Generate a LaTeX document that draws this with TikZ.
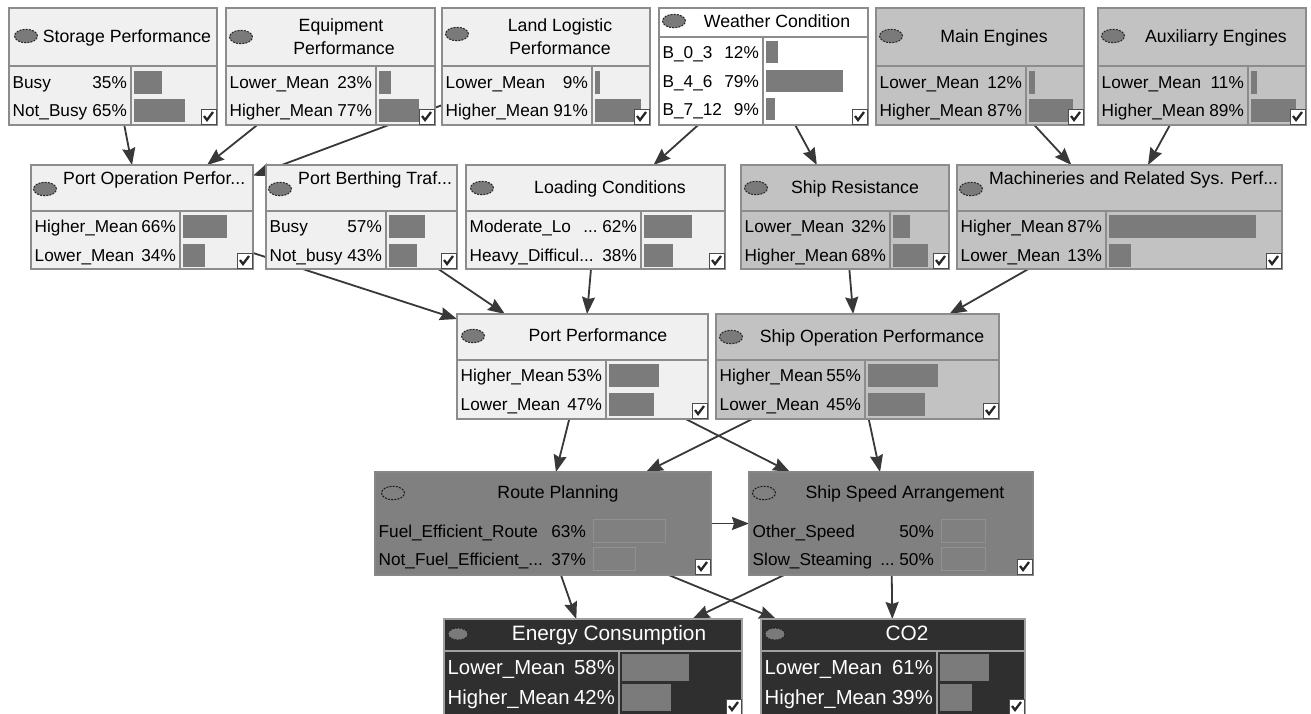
\documentclass[tikz,border=0pt]{standalone}
\usepackage{fontspec}
\setmainfont{Liberation Sans}
\usetikzlibrary{arrows.meta,shapes.geometric,backgrounds}
\pgfdeclarelayer{canvas}
\pgfsetlayers{canvas,background,main}

\definecolor{lightfill}{HTML}{F0F0F0}
\definecolor{midfill}{HTML}{C2C2C2}
\definecolor{darkfill}{HTML}{808080}
\definecolor{blackfill}{HTML}{2F2F2F}
\definecolor{framegray}{HTML}{8C8C8C}
\definecolor{lightrule}{HTML}{A0A0A0}
\definecolor{bargray}{HTML}{7B7B7B}
\definecolor{bulbgray}{HTML}{7A7A7A}
\definecolor{arrowgray}{HTML}{383838}

% node frame: name, x1, y1, x2, y2, fill
\newcommand{\BNframe}[6]{%
  \node[frame, fill=#6, minimum width={(#4)-(#2)}, minimum height={(#5)-(#3)}]
    (#1) at ({((#2)+(#4))/2},{((#3)+(#5))/2}) {};}
% header rule and column rule: x1, x2, yh, y2, xd
\newcommand{\BNsplit}[5]{%
  \draw[rule] (#1,#3) -- (#2,#3);
  \draw[rule] (#5,#3) -- (#5,#4);}
% state row: name, x1, xd, x2, y, label, percent text, fraction
\newcommand{\BNrow}[8]{%
  \node[lbl, anchor=west] (#1-l) at ({#2+3.5},#5) {#6};
  \node[lbl, anchor=east] (#1-p) at ({#3-4},#5) {#7};
  \path[bar] ({#3+3},{#5-\barhalf}) rectangle ({#3+3+(#4-#3-7)*#8},{#5+\barhalf});}
% check box in the lower right corner: name, x2, y2
\newcommand{\BNcheck}[3]{%
  \node[chk] (#1) at ({#2-8.5},{#3-8.5}) {};
  \draw[tick] ([shift={(-4.5,-0.5)}]#1.center) -- ([shift={(-1.5,3.5)}]#1.center)
    -- ([shift={(4.5,-4.5)}]#1.center);}
% node lamp: name, x, y, extra style
\newcommand{\BNbulb}[4]{\node[bulb,#4] (#1) at (#2,#3) {};}
\def\barhalf{11.5}

\begin{document}
\begin{tikzpicture}[x=1pt,y=-1pt,
  frame/.style={draw=framegray, line width=1.3pt, rectangle, inner sep=0pt, outer sep=0pt},
  rule/.style={draw=framegray, line width=1.3pt},
  lbl/.style={inner sep=0pt, text height=12.4pt, text depth=0pt,
    font=\fontsize{17.2}{20}\selectfont, text=black},
  ttl/.style={lbl, anchor=center, font=\fontsize{17.7}{20}\selectfont},
  bar/.style={fill=bargray},
  bulb/.style={ellipse, draw=black!85, line width=1pt, dash pattern=on 2pt off 1.2pt,
    fill=bulbgray, minimum width=23pt, minimum height=13.5pt, inner sep=0pt},
  chk/.style={draw=black!70, fill=white, line width=1pt, minimum size=15pt, inner sep=0pt},
  tick/.style={draw=black!85, line width=2.3pt},
  conn/.style={draw=arrowgray, line width=1.8pt,
    -{Stealth[length=17pt,width=13pt,inset=2pt]}},
]
\useasboundingbox (0,0) rectangle (1311,713);
\begin{pgfonlayer}{canvas}
  \fill[white] (0,0) rectangle (1311,713);
\end{pgfonlayer}

% ---------- top row ----------
\BNframe{stor}{9}{8}{217}{125}{lightfill}
\BNsplit{9}{217}{66}{125}{131}
\BNbulb{stor-b}{26}{36}{}
\node[ttl] (stor-t) at (127,36) {Storage Performance};
\BNrow{stor-1}{9}{131}{217}{82}{Busy}{35\%}{.35}
\BNrow{stor-2}{9}{131}{217}{110}{Not\_Busy}{65\%}{.65}
\BNcheck{stor-c}{217}{125}

\BNframe{equip}{226}{8}{435}{125}{lightfill}
\BNsplit{226}{435}{66}{125}{376}
\BNbulb{equip-b}{241}{37}{}
\node[ttl] (equip-t1) at (341,25) {Equipment};
\node[ttl] (equip-t2) at (344,48) {Performance};
\BNrow{equip-1}{226}{376}{435}{82}{Lower\_Mean}{23\%}{.23}
\BNrow{equip-2}{226}{376}{435}{110}{Higher\_Mean}{77\%}{.77}
\BNcheck{equip-c}{435}{125}

\BNframe{land}{442}{8}{650}{125}{lightfill}
\BNsplit{442}{650}{66}{125}{592}
\BNbulb{land-b}{457}{34}{}
\node[ttl] (land-t1) at (560,25) {Land Logistic};
\node[ttl] (land-t2) at (560,48) {Performance};
\BNrow{land-1}{442}{592}{650}{82}{Lower\_Mean}{9\%}{.09}
\BNrow{land-2}{442}{592}{650}{110}{Higher\_Mean}{91\%}{.91}
\BNcheck{land-c}{650}{125}

\BNframe{weather}{659}{8}{868}{125}{white}
\BNsplit{659}{868}{37}{125}{763}
\BNbulb{weather-b}{674}{21}{}
\node[ttl] (weather-t) at (777,21) {Weather Condition};
\begin{scope}
  \def\barhalf{11}
  \BNrow{weather-1}{659}{763}{868}{52}{B\_0\_3}{12\%}{.12}
  \BNrow{weather-2}{659}{763}{868}{81}{B\_4\_6}{79\%}{.79}
  \BNrow{weather-3}{659}{763}{868}{109}{B\_7\_12}{9\%}{.09}
\end{scope}
\BNcheck{weather-c}{868}{125}

\BNframe{main}{876}{8}{1084}{125}{midfill}
\BNsplit{876}{1084}{66}{125}{1026}
\BNbulb{main-b}{891}{36}{}
\node[ttl] (main-t) at (994,36) {Main Engines};
\BNrow{main-1}{876}{1026}{1084}{82}{Lower\_Mean}{12\%}{.12}
\BNrow{main-2}{876}{1026}{1084}{110}{Higher\_Mean}{87\%}{.87}
\BNcheck{main-c}{1084}{125}

\BNframe{aux}{1098}{8}{1306}{125}{midfill}
\BNsplit{1098}{1306}{66}{125}{1248}
\BNbulb{aux-b}{1113}{36}{}
\node[ttl] (aux-t) at (1216,36) {Auxiliarry Engines};
\BNrow{aux-1}{1098}{1248}{1306}{82}{Lower\_Mean}{11\%}{.11}
\BNrow{aux-2}{1098}{1248}{1306}{110}{Higher\_Mean}{89\%}{.89}
\BNcheck{aux-c}{1306}{125}

% ---------- second row ----------
\BNframe{portop}{31}{165}{253}{269}{lightfill}
\BNsplit{31}{253}{211}{269}{180}
\BNbulb{portop-b}{45}{189}{}
\node[ttl, anchor=west] (portop-t) at (63,178) {Port Operation Perfor...};
\BNrow{portop-1}{31}{180}{253}{226}{Higher\_Mean}{66\%}{.66}
\BNrow{portop-2}{31}{180}{253}{255}{Lower\_Mean}{34\%}{.34}
\BNcheck{portop-c}{253}{269}

\BNframe{berth}{266}{165}{457}{269}{lightfill}
\BNsplit{266}{457}{211}{269}{386}
\BNbulb{berth-b}{280}{189}{}
\node[ttl, anchor=west] (berth-t) at (298,178) {Port Berthing Traf...};
\BNrow{berth-1}{266}{386}{457}{226}{Busy}{57\%}{.57}
\BNrow{berth-2}{266}{386}{457}{255}{Not\_busy}{43\%}{.43}
\BNcheck{berth-c}{457}{269}

\BNframe{loading}{466}{165}{725}{269}{lightfill}
\BNsplit{466}{725}{211}{269}{641}
\BNbulb{loading-b}{482}{188}{}
\node[ttl] (loading-t) at (610,187) {Loading Conditions};
\BNrow{loading-1}{466}{641}{725}{226}{Moderate\_Lo}{...\ 62\%}{.62}
\BNrow{loading-2}{466}{641}{725}{255}{Heavy\_Difficul...}{38\%}{.38}
\BNcheck{loading-c}{725}{269}

\BNframe{shipres}{741}{165}{949}{269}{midfill}
\BNsplit{741}{949}{211}{269}{890}
\BNbulb{shipres-b}{756}{188}{}
\node[ttl] (shipres-t) at (855,187) {Ship Resistance};
\BNrow{shipres-1}{741}{890}{949}{226}{Lower\_Mean}{32\%}{.32}
\BNrow{shipres-2}{741}{890}{949}{255}{Higher\_Mean}{68\%}{.68}
\BNcheck{shipres-c}{949}{269}

\BNframe{mach}{957}{165}{1282}{269}{midfill}
\BNsplit{957}{1282}{211}{269}{1106}
\BNbulb{mach-b}{971}{189}{}
\node[ttl, anchor=west] (mach-t) at (989,178) {Machineries and Related Sys. Perf...};
\BNrow{mach-1}{957}{1106}{1282}{226}{Higher\_Mean}{87\%}{.87}
\BNrow{mach-2}{957}{1106}{1282}{255}{Lower\_Mean}{13\%}{.13}
\BNcheck{mach-c}{1282}{269}

% ---------- third row ----------
\BNframe{pp}{457}{314}{708}{419}{lightfill}
\BNsplit{457}{708}{360}{419}{606}
\BNbulb{pp-b}{473}{336}{}
\node[ttl] (pp-t) at (598,335) {Port Performance};
\BNrow{pp-1}{457}{606}{708}{375}{Higher\_Mean}{53\%}{.53}
\BNrow{pp-2}{457}{606}{708}{404}{Lower\_Mean}{47\%}{.47}
\BNcheck{pp-c}{708}{419}

\BNframe{shipop}{716}{314}{999}{419}{midfill}
\BNsplit{716}{999}{360}{419}{865}
\BNbulb{shipop-b}{731}{337}{}
\node[ttl] (shipop-t) at (872,336) {Ship Operation Performance};
\BNrow{shipop-1}{716}{865}{999}{375}{Higher\_Mean}{55\%}{.55}
\BNrow{shipop-2}{716}{865}{999}{404}{Lower\_Mean}{45\%}{.45}
\BNcheck{shipop-c}{999}{419}

% ---------- decision row ----------
\begin{scope}[frame/.append style={draw=black!47},
  bar/.style={fill=darkfill, draw=black!43, line width=0.6pt}]
  \BNframe{rp}{375}{472}{711}{575}{darkfill}
  \BNbulb{rp-b}{393}{493}{fill=none, draw=black!90}
  \node[ttl] (rp-t) at (558,492) {Route Planning};
  \BNrow{rp-1}{375}{590}{711}{531}{Fuel\_Efficient\_Route}{63\%}{.63}
  \BNrow{rp-2}{375}{590}{711}{559}{Not\_Fuel\_Efficient\_...}{37\%}{.37}
  \BNcheck{rp-c}{711}{575}

  \BNframe{ssa}{749}{472}{1033}{575}{darkfill}
  \BNbulb{ssa-b}{764}{493}{fill=none, draw=black!90}
  \node[ttl] (ssa-t) at (905,492) {Ship Speed Arrangement};
  \BNrow{ssa-1}{749}{938}{1033}{531}{Other\_Speed}{50\%}{.50}
  \BNrow{ssa-2}{749}{938}{1033}{559}{Slow\_Steaming}{...\ 50\%}{.50}
  \BNcheck{ssa-c}{1033}{575}
\end{scope}

% ---------- outcome row ----------
\begin{scope}[frame/.append style={draw=lightrule},
  rule/.style={draw=lightrule, line width=1.3pt},
  lbl/.append style={font=\fontsize{20.3}{24}\selectfont, text height=14.6pt, text=white},
  ttl/.append style={font=\fontsize{20.8}{24}\selectfont, text height=14.9pt},
  bulb/.append style={minimum width=20pt, minimum height=12pt}]
  \def\barhalf{13.5}
  \BNframe{energy}{444}{619}{742}{715}{blackfill}
  \BNsplit{444}{742}{651}{715}{619}
  \BNbulb{energy-b}{458}{634}{}
  \node[ttl] (energy-t) at (609,633) {Energy Consumption};
  \BNrow{energy-1}{444}{619}{742}{667}{Lower\_Mean}{58\%}{.58}
  \BNrow{energy-2}{444}{619}{742}{697}{Higher\_Mean}{42\%}{.42}
  \BNcheck{energy-c}{742}{715}

  \BNframe{co2}{761}{619}{1025}{715}{blackfill}
  \BNsplit{761}{1025}{651}{715}{937}
  \BNbulb{co2-b}{775}{634}{}
  \node[ttl] (co2-t) at (907,633) {CO2};
  \BNrow{co2-1}{761}{937}{1025}{667}{Lower\_Mean}{61\%}{.61}
  \BNrow{co2-2}{761}{937}{1025}{697}{Higher\_Mean}{39\%}{.39}
  \BNcheck{co2-c}{1025}{715}
\end{scope}

% ---------- links ----------
\begin{scope}[on background layer]
  \draw[conn] (stor) -- (portop);
  \draw[conn] (equip) -- (portop);
  \draw[conn] (land) -- (portop);
  \draw[conn] (weather) -- (loading);
  \draw[conn] (weather) -- (shipres);
  \draw[conn] (main) -- (mach);
  \draw[conn] (aux) -- (mach);
  \draw[conn] (portop) -- ([yshift=-5pt]pp.north west);
  \draw[conn] (berth) -- (pp);
  \draw[conn] (loading) -- (pp);
  \draw[conn] (shipres) -- (shipop);
  \draw[conn] (mach) -- (shipop);
  \draw[conn] (pp) -- (rp);
  \draw[conn] (pp) -- (ssa);
  \draw[conn] (shipop) -- (rp);
  \draw[conn] (shipop) -- (ssa);
  \draw[conn] (rp) -- (ssa);
  \draw[conn] (rp) -- (energy);
  \draw[conn] (rp) -- (co2);
  \draw[conn] (ssa) -- (energy);
  \draw[conn] (ssa) -- (co2);
\end{scope}
\end{tikzpicture}
\end{document}
